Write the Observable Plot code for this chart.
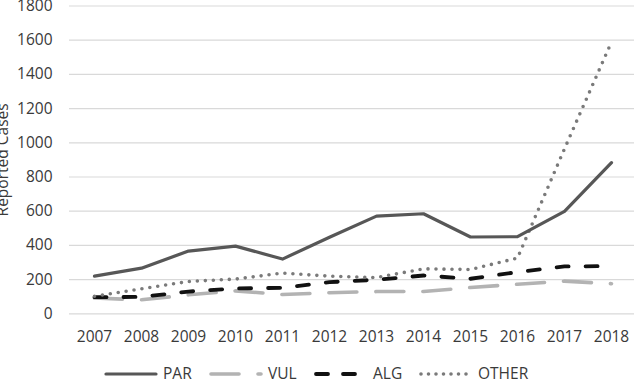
<!DOCTYPE html>
<html>
<head>
<meta charset="utf-8">
<script src="https://cdn.jsdelivr.net/npm/d3@7"></script>
<script src="https://cdn.jsdelivr.net/npm/@observablehq/plot@0.6"></script>
<style>
  html, body { margin: 0; padding: 0; background: #fff; overflow: hidden; }
  #wrap { position: relative; width: 634px; height: 380px; font-family: "Open Sans", sans-serif; }
  #legend { position: absolute; left: 0; top: 366px; width: 634px; height: 14px; }
  .item { position: absolute; top: 0; height: 14px; line-height: 14px; display: flex; align-items: center; font-size: 15.5px; color: #3a3a3a; }
  .item svg { margin-right: 5px; }
</style>
</head>
<body>
<div id="wrap"><div id="chart"></div><div id="legend"></div></div>
<script>
const years = ["2007","2008","2009","2010","2011","2012","2013","2014","2015","2016","2017","2018"];
const seriesNames = ["PAR", "VUL", "ALG", "OTHER"];
const par   = [220, 267, 367, 396, 320, 448, 571, 585, 449, 451, 599, 884];
const vul   = [92, 82, 111, 134, 113, 123, 130, 130, 154, 173, 191, 176];
const alg   = [97, 99, 130, 148, 152, 185, 199, 224, 205, 244, 277, 279];
const other = [103, 146, 189, 203, 238, 220, 212, 263, 259, 326, 965, 1590];
const yTicks = [0, 200, 400, 600, 800, 1000, 1200, 1400, 1600, 1800];
const yLabel = "Reported Cases";

const values = {PAR: par, VUL: vul, ALG: alg, OTHER: other};
const styles = {
  PAR:   {stroke: "#575757", strokeWidth: 3.2, strokeDasharray: null, strokeLinecap: "round"},
  VUL:   {stroke: "#b3b3b3", strokeWidth: 3.6, strokeDasharray: "28,19", strokeLinecap: "round"},
  ALG:   {stroke: "#111111", strokeWidth: 3.8, strokeDasharray: "12,17", strokeLinecap: "round"},
  OTHER: {stroke: "#7a7a7a", strokeWidth: 3.6, strokeDasharray: "0,8", strokeLinecap: "round"}
};
const drawOrder = ["VUL", "ALG", "OTHER", "PAR"];

const lineMarks = drawOrder.map(name => {
  const data = years.map((yr, i) => ({year: yr, value: values[name][i]}));
  const s = styles[name];
  const opts = {x: "year", y: "value", stroke: s.stroke, strokeWidth: s.strokeWidth, strokeLinecap: s.strokeLinecap, strokeLinejoin: "round"};
  if (s.strokeDasharray) opts.strokeDasharray = s.strokeDasharray;
  return Plot.line(data, opts);
});

const chart = Plot.plot({
  width: 634,
  height: 350,
  marginLeft: 69,
  marginRight: -2,
  marginTop: 5.5,
  marginBottom: 36.7,
  style: {fontFamily: "Open Sans, sans-serif", fontSize: "15.5px", color: "#3a3a3a", background: "transparent", overflow: "visible"},
  x: {type: "point", domain: years, padding: 0.5, align: 0.5},
  y: {domain: [0, 1800], ticks: yTicks},
  marks: [
    Plot.gridY(yTicks, {stroke: "#d9d9d9", strokeOpacity: 1, strokeWidth: 1.2}),
    Plot.axisY(yTicks, {tickSize: 0, tickPadding: 17, label: null, fontSize: 15.5, fill: "#3a3a3a", tickFormat: d => String(d)}),
    Plot.axisX({tickSize: 0, tickPadding: 17, label: null, fontSize: 15.5, fill: "#3a3a3a"}),
    ...lineMarks,
    Plot.text([yLabel], {frameAnchor: "left", rotate: -90, dx: -62, textAnchor: "middle", lineAnchor: "bottom", fontSize: 15.5, fill: "#3a3a3a"})
  ]
});
document.getElementById("chart").appendChild(chart);

// Legend
const legend = document.getElementById("legend");
seriesNames.forEach((name, i) => {
  const s = styles[name];
  const item = document.createElement("div");
  item.className = "item";
  item.style.left = (103 + i * 105) + "px";
  const ns = "http://www.w3.org/2000/svg";
  const svg = document.createElementNS(ns, "svg");
  svg.setAttribute("width", 55);
  svg.setAttribute("height", 14);
  const ln = document.createElementNS(ns, "line");
  ln.setAttribute("x1", 3); ln.setAttribute("x2", 53);
  ln.setAttribute("y1", 8); ln.setAttribute("y2", 8);
  ln.setAttribute("stroke", s.stroke);
  ln.setAttribute("stroke-width", s.strokeWidth);
  ln.setAttribute("stroke-linecap", s.strokeLinecap);
  if (name === "OTHER") ln.setAttribute("stroke-dasharray", "0,7.5");
  else if (name === "ALG") ln.setAttribute("stroke-dasharray", "12,15");
  else if (s.strokeDasharray) ln.setAttribute("stroke-dasharray", s.strokeDasharray);
  svg.appendChild(ln);
  const label = document.createElement("span");
  label.textContent = name;
  item.appendChild(svg);
  item.appendChild(label);
  legend.appendChild(item);
});
</script>
</body>
</html>
